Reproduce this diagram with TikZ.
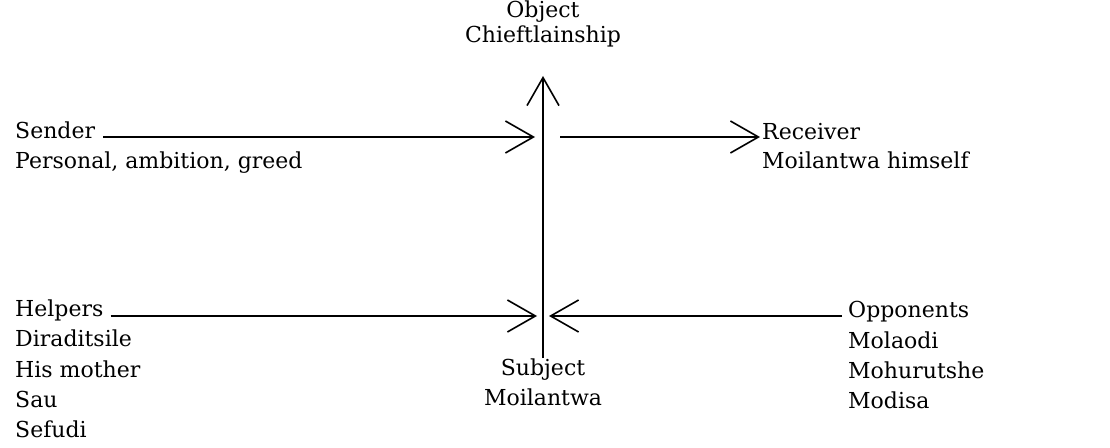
\documentclass[tikz,border=0pt]{standalone}
\usepackage{fontspec}
\setmainfont{DejaVu Serif}
\usetikzlibrary{arrows.meta,positioning}
\definecolor{ink}{HTML}{000000}
\definecolor{paper}{HTML}{FFFFFF}

\begin{document}
\begin{tikzpicture}[x=1pt,y=1pt,
  lbl/.style={font=\fontsize{22}{30}\selectfont,inner sep=0pt,text=ink},
  arm/.style={draw=ink,line width=1.8pt,-{Straight Barb[length=28pt,width=32pt,line width=1.6pt]}}]
  \fill[paper] (0,0) rectangle (1110,447);
  \useasboundingbox (0,0) rectangle (1110,447);

  % points on the axis
  \coordinate (axisTop) at (543,371);
  \coordinate (senderTip) at (535,310);
  \coordinate (receiverTail) at (560,310);
  \coordinate (helperTip) at (537,131);
  \coordinate (opponentTip) at (549,131);

  \node[lbl,anchor=base] (object) at (543,429) {Object};
  \node[lbl,anchor=base] (objectName) at ([yshift=-25pt]object.base) {Chieftlainship};
  \node[lbl,anchor=base] (subject) at (543,72) {Subject};
  \node[lbl,anchor=base] (subjectName) at ([yshift=-30pt]subject.base) {Moilantwa};

  \node[lbl,anchor=base west] (sender) at (15,308) {Sender};
  \node[lbl,anchor=base west] (senderWhy) at ([yshift=-30pt]sender.base west) {Personal, ambition, greed};
  \node[lbl,anchor=base west] (receiver) at (762,307) {Receiver};
  \node[lbl,anchor=base west] (receiverWho) at ([yshift=-29pt]receiver.base west) {Moilantwa himself};

  \node[lbl,anchor=base west] (helpers) at (15,130) {Helpers};
  \foreach \who [count=\i] in {Diraditsile,His mother,Sau,Sefudi} {
    \node[lbl,anchor=base west] (helper\i) at ([yshift=-30*\i pt]helpers.base west) {\who};
  }
  \node[lbl,anchor=base west] (opponents) at (848,129) {Opponents};
  \foreach \who [count=\i] in {Molaodi,Mohurutshe,Modisa} {
    \node[lbl,anchor=base west] (opponent\i) at ([yshift=-30*\i pt]opponents.base west) {\who};
  }

  \draw[arm] (subject.north) -- (axisTop);
  \draw[arm,shorten <=8pt] (sender.east |- senderTip) -- (senderTip);
  \draw[arm,shorten >=2pt] (receiverTail) -- (receiver.west |- receiverTail);
  \draw[arm,shorten <=7pt] (helpers.east |- helperTip) -- (helperTip);
  \draw[arm,shorten <=6pt] (opponents.west |- opponentTip) -- (opponentTip);
\end{tikzpicture}
\end{document}
